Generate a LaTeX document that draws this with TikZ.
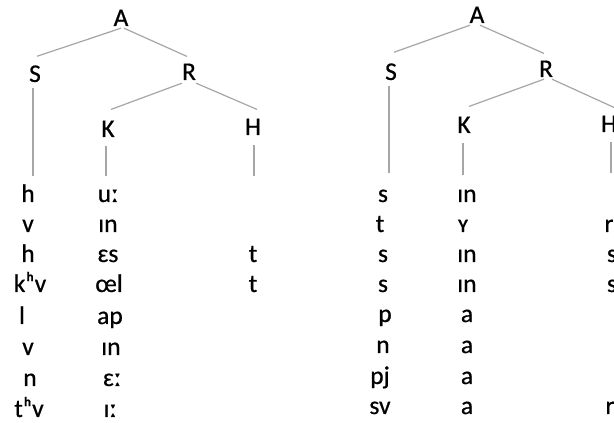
\documentclass[tikz,border=0pt]{standalone}
\usepackage{fontspec}
\setmainfont{Carlito}[BoldFont=Carlito,BoldFeatures={FakeBold=0.6}]
\begin{document}
\begin{tikzpicture}[x=1pt,y=1pt,
  lab/.style={inner sep=0pt,anchor=base,font=\fontsize{25.5}{30}\selectfont\bfseries},
  seg/.style={inner sep=0pt,anchor=base,font=\fontsize{25.5}{30}\selectfont\bfseries},
  branch/.style={draw=black!35,line width=1.2pt}]
\useasboundingbox (0,0) rectangle (614,423);
\clip (0,0) rectangle (614,423);
\fill[white] (0,0) rectangle (614,423);
% ---------- left tree ----------
\node[lab] (lA) at (121,397) {A};
\node[lab] (lS) at (35,341) {S};
\node[lab] (lR) at (189,343) {R};
\node[lab] (lK) at (108,286) {K};
\node[lab] (lH) at (253,288) {H};
\coordinate (lSend) at (33,247);
\coordinate (lKend) at (106,247);
\coordinate (lHend) at (254,247);
\draw[branch] ([yshift=-2pt]lA.south) -- ([xshift=2pt,yshift=9pt]lS.north);
\draw[branch] ([xshift=3pt,yshift=-2pt]lA.south) -- ([xshift=-2pt,yshift=7pt]lR.north);
\draw[branch] ([yshift=-3pt]lR.south west) -- ([xshift=3pt,yshift=11pt]lK.north);
\draw[branch] ([yshift=-3pt]lR.south east) -- ([xshift=4pt,yshift=9pt]lH.north);
\draw[branch] ([xshift=-2pt,yshift=-6pt]lS.south) -- (lSend);
\draw[branch] ([xshift=-2pt,yshift=-9pt]lK.south) -- (lKend);
\draw[branch] ([xshift=1pt,yshift=-10pt]lH.south) -- (lHend);
% left column 1
\node[seg] (l11) at (28,221) {h};
\node[seg] (l12) at (28,191) {v};
\node[seg] (l13) at (28,161) {h};
\node[seg] (l14) at (30,131) {kʰv};
\node[seg] (l15) at (22,99) {l};
\node[seg] (l16) at (28,68) {v};
\node[seg] (l17) at (30,37) {n};
\node[seg] (l18) at (29,6) {tʰv};
% left column 2
\node[seg] (l21) at (108,221) {uː};
\node[seg] (l22) at (108,191) {ɪn};
\node[seg] (l23) at (108,161) {ɛs};
\node[seg] (l24) at (109,131) {œl};
\node[seg] (l25) at (110,99) {ap};
\node[seg] (l26) at (111,68) {ɪn};
\node[seg] (l27) at (112,37) {ɛː};
\node[seg] (l28) at (110,6) {ɪː};
% left column 3
\node[seg] (l33) at (253,161) {t};
\node[seg] (l34) at (253,131) {t};
% ---------- right tree ----------
\node[lab] (rA) at (477,400) {A};
\node[lab] (rS) at (391,343) {S};
\node[lab] (rR) at (546,346) {R};
\node[lab] (rK) at (464,290) {K};
\node[lab] (rH) at (609,291) {H};
\coordinate (rSend) at (389,250);
\coordinate (rKend) at (463,248);
\coordinate (rHend) at (611,250);
\draw[branch] ([xshift=-7pt,yshift=-2pt]rA.south) -- ([xshift=3pt,yshift=11pt]rS.north);
\draw[branch] ([xshift=3pt,yshift=-2pt]rA.south) -- ([xshift=-2pt,yshift=7pt]rR.north);
\draw[branch] ([xshift=-2pt,yshift=-2pt]rR.south) -- ([xshift=5pt,yshift=10pt]rK.north);
\draw[branch] ([xshift=6pt,yshift=-2pt]rR.south) -- ([xshift=5pt,yshift=8pt]rH.north);
\draw[branch] ([xshift=-2pt,yshift=-6pt]rS.south) -- (rSend);
\draw[branch] ([xshift=-1pt,yshift=-10pt]rK.south) -- (rKend);
\draw[branch] ([xshift=2pt,yshift=-10pt]rH.south) -- (rHend);
% right column 1
\node[seg] (r11) at (383,221) {s};
\node[seg] (r12) at (380,191) {t};
\node[seg] (r13) at (383,161) {s};
\node[seg] (r14) at (383,131) {s};
\node[seg] (r15) at (385,101) {p};
\node[seg] (r16) at (383,70) {n};
\node[seg] (r17) at (380,39) {pj};
\node[seg] (r18) at (380,9) {sv};
% right column 2
\node[seg] (r21) at (467,221) {ɪn};
\node[seg] (r22) at (463,191) {ʏ};
\node[seg] (r23) at (467,161) {ɪn};
\node[seg] (r24) at (467,131) {ɪn};
\node[seg] (r25) at (467,101) {a};
\node[seg] (r26) at (467,70) {a};
\node[seg] (r27) at (467,39) {a};
\node[seg] (r28) at (467,9) {a};
% right column 3
\node[seg] (r32) at (609,191) {r};
\node[seg] (r33) at (612,161) {s};
\node[seg] (r34) at (612,131) {s};
\node[seg] (r38) at (610,9) {r};
\end{tikzpicture}
\end{document}
